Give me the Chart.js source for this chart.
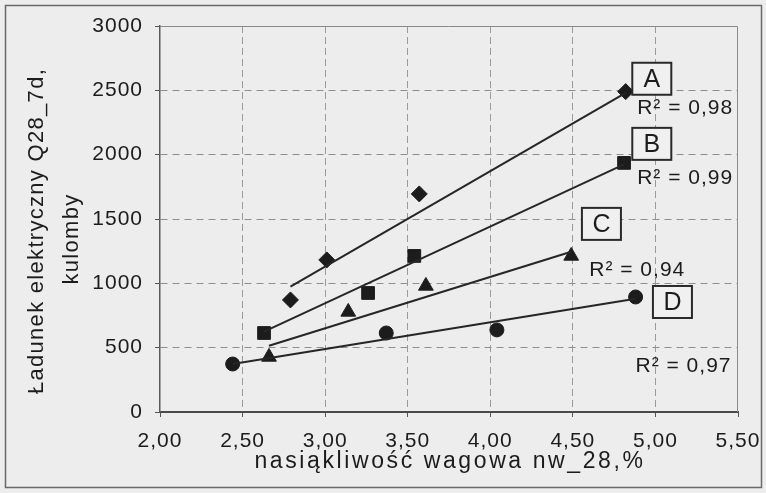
<!DOCTYPE html>
<html>
<head>
<meta charset="utf-8">
<script src="https://cdn.jsdelivr.net/npm/chart.js@4"></script>
<style>
    html, body { margin: 0; padding: 0; background: #ededed; }
    #wrap { width: 766px; height: 493px; position: relative; }
</style>
</head>
<body>
<div id="wrap"><canvas id="chart" width="766" height="493"></canvas></div>
<script>
// ── data ───────────────────────────────────────────────────────────────────
const xTicks = [2.0, 2.5, 3.0, 3.5, 4.0, 4.5, 5.0, 5.5];
const yTicks = [0, 500, 1000, 1500, 2000, 2500, 3000];

const xTitle = 'nasiąkliwość wagowa nw_28,%';
const yTitle = ['Ładunek elektryczny Q28_7d,', 'kulomby'];

const seriesNames = ['A', 'B', 'C', 'D'];
const r2Labels = ['R² = 0,98', 'R² = 0,99', 'R² = 0,94', 'R² = 0,97'];

const aX = [2.79, 3.01, 3.57, 4.82];
const aY = [871, 1182, 1695, 2490];
const bX = [2.63, 3.26, 3.54, 4.81];
const bY = [614, 925, 1213, 1936];
const cX = [2.66, 3.14, 3.61, 4.49];
const cY = [428, 778, 980, 1213];
const dX = [2.44, 3.37, 4.04, 4.88];
const dY = [373, 614, 638, 894];

// trend line end points
const aTrendX = [2.79, 4.82];
const aTrendY = [975, 2480];
const bTrendX = [2.63, 4.81];
const bTrendY = [625, 1925];
const cTrendX = [2.66, 4.49];
const cTrendY = [515, 1245];
const dTrendX = [2.44, 4.88];
const dTrendY = [373, 880];

const FONT = "'Liberation Sans', Arial, sans-serif";
const INK = '#1c1c1c';

const toPts = (xs, ys) => xs.map((x, i) => ({ x: x, y: ys[i] }));

function markers(label, xs, ys, style, radius) {
    return {
        label: label,
        data: toPts(xs, ys),
        showLine: false,
        pointStyle: style,
        pointRadius: radius,
        pointBackgroundColor: INK,
        pointBorderColor: INK,
        pointBorderWidth: 1
    };
}

function trend(label, xs, ys) {
    return {
        label: label,
        data: toPts(xs, ys),
        showLine: true,
        borderColor: '#262626',
        borderWidth: 2,
        pointRadius: 0,
        tension: 0
    };
}

// the scanned original uses a slightly wide face, so open the letters a bit
const spacing = px => { return ctx => { if ('letterSpacing' in ctx) ctx.letterSpacing = px; }; };
const baseSpacing = spacing('1px');

// frame, letters in boxes, R² texts and the axis titles
const labelPlugin = {
    id: 'boxLabels',
    beforeUpdate(chart) { baseSpacing(chart.ctx); },
    beforeDraw(chart) {
        const c = chart.ctx;
        baseSpacing(c);
        c.save();
        c.strokeStyle = '#6a6a6a';
        c.lineWidth = 1.5;
        c.strokeRect(5.5, 5.5, 756, 482);
        c.restore();
    },
    afterDatasetsDraw(chart, args, opts) {
        const c = chart.ctx;
        const xs = chart.scales.x, ys = chart.scales.y;
        const area = chart.chartArea;
        c.save();
        // plot frame top / right
        c.strokeStyle = '#8a8a8a';
        c.lineWidth = 1;
        c.beginPath();
        c.moveTo(area.left, area.top + 0.5);
        c.lineTo(area.right - 0.5, area.top + 0.5);
        c.lineTo(area.right - 0.5, area.bottom);
        c.stroke();

        c.fillStyle = INK;
        c.textAlign = 'center';
        c.textBaseline = 'middle';
        opts.items.forEach(it => {
            const px = xs.getPixelForValue(it.x);
            const py = ys.getPixelForValue(it.y);
            if (it.box) {
                c.font = '25px ' + FONT;
                c.fillStyle = '#f0f0f0';
                c.fillRect(px - 19, py - 16, 39, 32);
                c.fillStyle = INK;
                c.fillText(it.text, px + 1, py + 1);
                c.strokeStyle = '#2a2a2a';
                c.lineWidth = 2;
                c.strokeRect(px - 19, py - 16, 39, 32);
            } else {
                c.font = '21px ' + FONT;
                c.fillText(it.text, px, py);
            }
        });

        // axis titles
        c.font = '23px ' + FONT;
        c.textBaseline = 'alphabetic';
        spacing('2.6px')(c);
        c.fillText(xTitle, opts.xTitleAt[0], opts.xTitleAt[1]);
        c.font = '22px ' + FONT;
        spacing('1.3px')(c);
        c.translate(opts.yTitleAt[0], opts.yTitleAt[1]);
        c.rotate(-Math.PI / 2);
        c.textBaseline = 'middle';
        c.fillText(yTitle[0], 0, 0);
        c.fillText(yTitle[1], -8, 35);
        c.restore();
    }
};

const edgeGrid = (v, lo, hi, col) => (v === lo || v === hi) ? 'rgba(0,0,0,0)' : col;

new Chart(document.getElementById('chart'), {
    type: 'scatter',
    data: {
        datasets: [
            trend('A trend', aTrendX, aTrendY),
            trend('B trend', bTrendX, bTrendY),
            trend('C trend', cTrendX, cTrendY),
            trend('D trend', dTrendX, dTrendY),
            markers(seriesNames[0], aX, aY, 'rectRot', 8),
            markers(seriesNames[1], bX, bY, 'rect', 9),
            markers(seriesNames[2], cX, cY, 'triangle', 8.5),
            markers(seriesNames[3], dX, dY, 'circle', 7)
        ]
    },
    options: {
        responsive: false,
        animation: false,
        layout: { padding: { left: 10, right: 28, top: 26, bottom: 8 } },
        plugins: {
            legend: { display: false },
            tooltip: { enabled: false },
            boxLabels: {
                xTitleAt: [450, 468],
                yTitleAt: [37, 231],
                items: [
                    { text: seriesNames[0], x: 4.975, y: 2590, box: true },
                    { text: r2Labels[0], x: 5.18, y: 2364 },
                    { text: seriesNames[1], x: 4.975, y: 2084, box: true },
                    { text: r2Labels[1], x: 5.18, y: 1820 },
                    { text: seriesNames[2], x: 4.67, y: 1462, box: true },
                    { text: r2Labels[2], x: 4.89, y: 1104 },
                    { text: seriesNames[3], x: 5.10, y: 855, box: true },
                    { text: r2Labels[3], x: 5.17, y: 358 }
                ]
            }
        },
        scales: {
            x: {
                type: 'linear',
                min: xTicks[0],
                max: xTicks[xTicks.length - 1],
                afterBuildTicks: s => { s.ticks = xTicks.map(v => ({ value: v })); },
                afterFit: s => { s.height = 73; s.paddingLeft = 0; s.paddingRight = 0; },
                grid: {
                    color: ctx => edgeGrid(ctx.tick.value, xTicks[0], xTicks[xTicks.length - 1], '#9a9a9a'),
                    tickColor: '#555',
                    tickLength: 5,
                    lineWidth: 1
                },
                border: { display: true, color: '#4a4a4a', width: 2, dash: [7, 4] },
                ticks: {
                    color: INK,
                    padding: 12,
                    font: { family: FONT, size: 21 },
                    callback: v => v.toFixed(2).replace('.', ',')
                },
                title: { display: false }
            },
            y: {
                type: 'linear',
                min: yTicks[0],
                max: yTicks[yTicks.length - 1],
                afterBuildTicks: s => { s.ticks = yTicks.map(v => ({ value: v })); },
                afterFit: s => { s.width = 150; s.paddingTop = 0; s.paddingBottom = 0; },
                grid: {
                    color: ctx => edgeGrid(ctx.tick.value, yTicks[0], yTicks[yTicks.length - 1], '#8e8e8e'),
                    tickColor: '#555',
                    tickLength: 5,
                    lineWidth: 1
                },
                border: { display: true, color: '#5a5a5a', width: 1.5, dash: [7, 5] },
                ticks: {
                    color: INK,
                    padding: 12,
                    font: { family: FONT, size: 21 },
                    callback: v => String(v)
                },
                title: { display: false }
            }
        }
    },
    plugins: [labelPlugin]
});
</script>
</body>
</html>
